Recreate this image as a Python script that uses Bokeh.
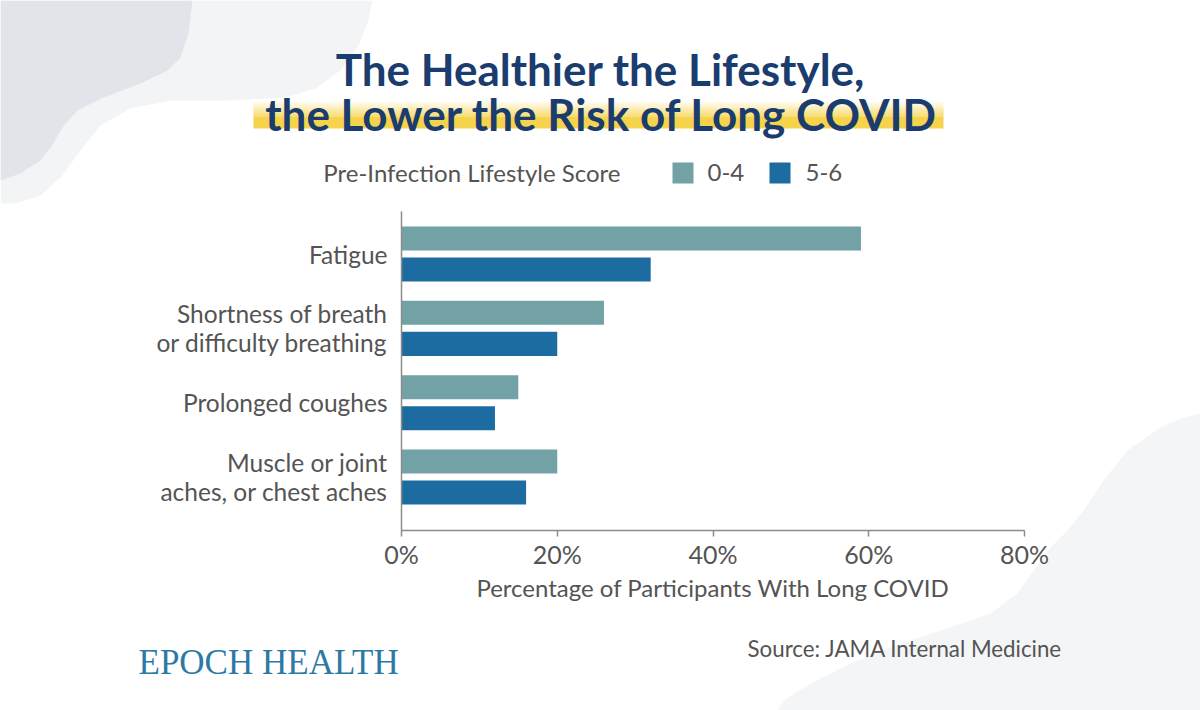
from bokeh.plotting import figure
from bokeh.models import Label, PolyAnnotation, Range1d, FixedTicker, PrintfTickFormatter
from bokeh.embed import file_html
from bokeh.resources import INLINE

# ---------------- data ----------------
categories = ["Fatigue",
              "Shortness of breath\nor difficulty breathing",
              "Prolonged coughes",
              "Muscle or joint\naches, or chest aches"]
score_0_4 = [59, 26, 15, 20]
score_5_6 = [32, 20, 12, 16]
series_names = ["0-4", "5-6"]
x_ticks = [0, 20, 40, 60, 80]

title_lines = ["The Healthier the Lifestyle,", "the Lower the Risk of Long COVID"]
legend_title = "Pre-Infection Lifestyle Score"
x_title = "Percentage of Participants With Long COVID"
brand = "EPOCH HEALTH"
source = "Source: JAMA Internal Medicine"

# ---------------- styles / layout ----------------
C04 = "#72a2a5"
C56 = "#1c6ca2"
NAVY = "#1a3c6e"
GRAY = "#545454"
AXIS = "#8c8c8c"
YELLOW = "#f6d34c"
FONT = "Lato"

W, H = 1200, 710
PX_L, PX_R = 401, 1024      # pixel x of 0% and 80%
PX_T, PX_B = 211, 530       # pixel y of top / bottom of plotting area
X_MIN, X_MAX = 0, 80
Y_TOP, Y_BOT = -0.572, 3.72  # category axis extent (data units)

KX = (PX_R - PX_L) / (X_MAX - X_MIN)
KY = (PX_B - PX_T) / (Y_BOT - Y_TOP)

p = figure(width=W, height=H, output_backend="svg", toolbar_location=None,
           x_range=Range1d(X_MIN - PX_L / KX, X_MIN + (W - PX_L) / KX),
           y_range=Range1d(Y_BOT + (H - PX_B) / KY, Y_TOP - PX_T / KY),
           min_border=0, min_border_left=0, min_border_right=0,
           min_border_top=0, min_border_bottom=0,
           outline_line_color=None, background_fill_color="white",
           border_fill_color="white")
p.grid.visible = False

idx = list(range(len(categories)))
off = 0.209
h = 0.323
p.hbar(y=[i - off for i in idx], left=0, right=score_0_4, height=h,
       fill_color=C04, line_color=None)
p.hbar(y=[i + off for i in idx], left=0, right=score_5_6, height=h,
       fill_color=C56, line_color=None)

# x axis
xa = p.xaxis[0]
xa.fixed_location = Y_BOT
xa.bounds = (X_MIN, X_MAX)
xa.ticker = FixedTicker(ticks=x_ticks)
xa.formatter = PrintfTickFormatter(format="%d%%")
xa.axis_line_color = AXIS
xa.axis_line_width = 1.5
xa.major_tick_line_color = AXIS
xa.major_tick_line_width = 1.5
xa.major_tick_out = 6
xa.major_tick_in = 0
xa.minor_tick_line_color = None
xa.major_label_standoff = 2
xa.major_label_text_font = FONT
xa.major_label_text_font_size = "25px"
xa.major_label_text_color = GRAY
xa.axis_label = x_title
xa.axis_label_text_font = FONT
xa.axis_label_text_font_size = "24px"
xa.axis_label_text_font_style = "normal"
xa.axis_label_text_color = GRAY
xa.axis_label_standoff = 1

# y axis
ya = p.yaxis[0]
ya.fixed_location = X_MIN
ya.bounds = (Y_TOP, Y_BOT)
ya.ticker = FixedTicker(ticks=idx)
ya.major_label_overrides = {i: c for i, c in zip(idx, categories)}
ya.axis_line_color = AXIS
ya.axis_line_width = 1.5
ya.major_tick_line_color = None
ya.minor_tick_line_color = None
ya.major_tick_out = 0
ya.major_tick_in = 0
ya.major_label_standoff = 14
ya.major_label_text_font = FONT
ya.major_label_text_font_size = "24.5px"
ya.major_label_text_color = GRAY
ya.major_label_text_line_height = 1.0


def sx(x):
    return x


def sy(y):
    return H - y


def label(text, x, y, size, color=GRAY, font=FONT, style="normal",
          align="left", baseline="middle"):
    p.add_layout(Label(x=sx(x), y=sy(y), x_units="screen", y_units="screen",
                       text=text, text_font=font, text_font_size=f"{size}px",
                       text_color=color, text_font_style=style,
                       text_align=align, text_baseline=baseline))


def poly(pts, color, alpha=1.0, level="underlay"):
    p.add_layout(PolyAnnotation(xs=[sx(a) for a, b in pts], ys=[sy(b) for a, b in pts],
                                xs_units="screen", ys_units="screen",
                                fill_color=color, fill_alpha=alpha,
                                line_color=None, level=level))


# background decorations
light_blob = [(0, 0), (372, 0), (368, 20), (358, 45), (340, 70), (315, 88), (285, 97),
              (230, 100), (170, 100), (130, 108), (100, 125), (80, 150), (62, 175),
              (40, 195), (15, 203), (0, 203)]
dark_blob = [(0, 0), (192, 0), (188, 33), (180, 57), (167, 70), (140, 83), (103, 97),
             (77, 110), (62, 127), (53, 143), (40, 160), (20, 173), (0, 180)]
br_blob = [(1200, 413), (1180, 418), (1160, 427), (1127, 450), (1103, 480), (1083, 510),
           (1067, 530), (1050, 547), (1033, 570), (1017, 593), (990, 613), (950, 627),
           (900, 643), (850, 663), (810, 683), (783, 700), (777, 710), (1200, 710)]
poly(light_blob, "#f3f4f6")
poly(dark_blob, "#e1e4e9")
poly(br_blob, "#f4f5f7")

# yellow highlight band with fade
N = 16
for k in range(N):
    y0 = 100 + k
    poly([(253, y0), (943, y0), (943, y0 + 1), (253, y0 + 1)], YELLOW, alpha=((k + 1) / N) ** 1.3)
poly([(253, 100 + N), (943, 100 + N), (943, 128), (253, 128)], YELLOW)

# title
label(title_lines[0], 600, 68, 44, color=NAVY, font="Lato", style="bold",
      align="center", baseline="alphabetic")
label(title_lines[1], 601, 113, 44, color=NAVY, font="Lato", style="bold",
      align="center", baseline="alphabetic")

# legend
label(legend_title, 620, 172, 24, align="right")
poly([(672, 162), (693, 162), (693, 183), (672, 183)], C04, level="annotation")
label(series_names[0], 707, 172, 24)
poly([(769, 162), (790, 162), (790, 183), (769, 183)], C56, level="annotation")
label(series_names[1], 805, 172, 24)

# footer
label(brand, 138, 662, 35, color="#2e79a4", font="Liberation Serif", baseline="alphabetic")
label(source, 1062, 648, 22.3, align="right")

open("out.html", "w").write(file_html(p, INLINE))
